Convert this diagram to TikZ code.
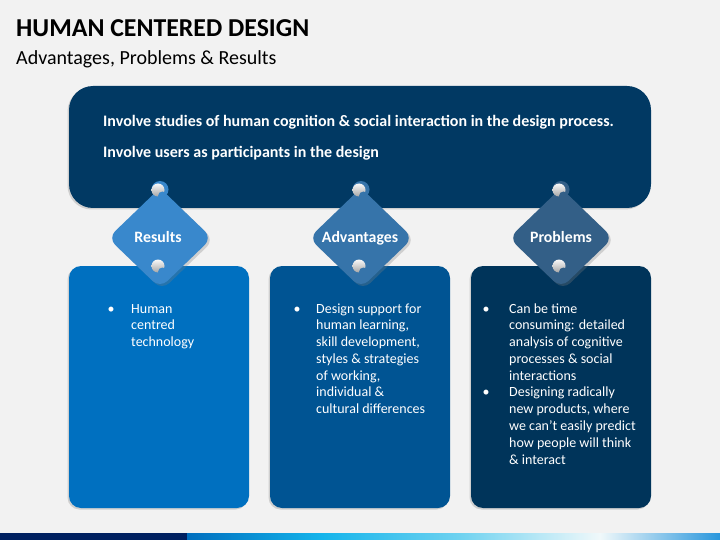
\documentclass[tikz,border=0pt]{standalone}
\usepackage{fontspec}
\setmainfont{Carlito}
\usetikzlibrary{shadows}
\definecolor{bg}{RGB}{242,242,242}
\definecolor{topbox}{RGB}{1,57,99}
\definecolor{boxA}{RGB}{0,112,192}
\definecolor{boxB}{RGB}{0,84,147}
\definecolor{boxC}{RGB}{0,52,90}
\definecolor{diaA}{RGB}{57,136,204}
\definecolor{diaB}{RGB}{54,116,170}
\definecolor{diaC}{RGB}{51,95,135}
\definecolor{barnavy}{RGB}{0,32,96}
\definecolor{barblue}{RGB}{0,110,190}
\definecolor{barcyan}{RGB}{20,180,235}
\definecolor{barlight}{RGB}{110,210,240}
\definecolor{barwhite}{RGB}{240,248,250}
\definecolor{barend}{RGB}{40,150,220}
\newcommand\knobdraw[3]{%
  \fill[#3] (#1+1,#2-1.5) circle (8.5);
  \shade[top color=white!95!gray, bottom color=gray!70] (#1-1,#2-1) circle (6.5);
  \fill[#3] (#1+3.5,#2+5) circle (4.5);
}
\newcommand\diamonddraw[3]{%
  \fill[#3, rounded corners=10pt, drop shadow={shadow xshift=2pt, shadow yshift=-2pt, opacity=.3}]
    (#1,#2-50) -- (#1+52,#2) -- (#1,#2+50) -- (#1-52,#2) -- cycle;
}
\begin{document}
\begin{tikzpicture}[x=1pt,y=-1pt,
  panel/.style={rounded corners=12pt, inner sep=0pt, draw=none,
    drop shadow={shadow xshift=-1.5pt, shadow yshift=-1.5pt, opacity=.3}},
  bodytxt/.style={anchor=base west, inner sep=0pt, text=white, font=\fontsize{14}{16.8}\selectfont},
  bullettxt/.style={anchor=base, inner sep=0pt, text=white, font=\fontsize{14}{16.8}\selectfont},
  headtxt/.style={anchor=base west, inner sep=0pt, text=white, font=\fontsize{16}{19}\selectfont\bfseries},
  labeltxt/.style={anchor=base, inner sep=0pt, text=white, font=\fontsize{15.8}{19}\selectfont\bfseries}]
\useasboundingbox (0,0) rectangle (720,540);
\fill[bg] (0,0) rectangle (720,540);

% title
\node[anchor=base west, inner sep=0pt, font=\fontsize{25.8}{30}\selectfont\bfseries] (title) at (16,37) {HUMAN CENTERED DESIGN};
\node[anchor=base west, inner sep=0pt, font=\fontsize{20}{24}\selectfont] (subtitle) at (16,65) {Advantages, Problems \& Results};

% top box
\node[panel, rounded corners=24pt, fill=topbox, minimum width=582pt, minimum height=122pt] (topbox) at (360,147) {};
\node[headtxt] (line1) at (103,127) {Involve studies of human cognition \& social interaction in the design process.};
\node[headtxt] (line2) at (103,158) {Involve users as participants in the design};

% bottom boxes
\node[panel, fill=boxA, minimum width=180pt, minimum height=242pt] (boxA) at (159,387) {};
\node[panel, fill=boxB, minimum width=180pt, minimum height=242pt] (boxB) at (360,387) {};
\node[panel, fill=boxC, minimum width=180pt, minimum height=242pt] (boxC) at (561,387) {};

% diamonds with knobs
\diamonddraw{160}{238}{diaA}
\knobdraw{159}{191}{diaA}
\knobdraw{159}{267}{diaA}
\diamonddraw{361}{238}{diaB}
\knobdraw{360}{191}{diaB}
\knobdraw{360}{267}{diaB}
\diamonddraw{561}{238}{diaC}
\knobdraw{560}{191}{diaC}
\knobdraw{560}{267}{diaC}

\node[labeltxt] (labA) at (158,243) {Results};
\node[labeltxt] (labB) at (360,243) {Advantages};
\node[labeltxt] (labC) at (561,243) {Problems};

% box texts
\node[bullettxt] (bA1) at (111,313) {•};
\foreach \t [count=\i from 0] in {{Human},{centred},{technology}}
  \node[bodytxt] (tA\i) at (131,313+16.78*\i) {\t};

\node[bullettxt] (bB1) at (297,313) {•};
\foreach \t [count=\i from 0] in {{Design support for},{human learning,},{skill development,},{styles \& strategies},{of working,},{individual \&},{cultural differences}}
  \node[bodytxt] (tB\i) at (316,313+16.78*\i) {\t};

\node[bullettxt] (bC1) at (486,313) {•};
\node[bullettxt] (bC2) at (486,313+16.78*5) {•};
\foreach \t [count=\i from 0] in {{Can be time},{consuming: detailed},{analysis of cognitive},{processes \& social},{interactions},{Designing radically},{new products, where},{we can’t easily predict},{how people will think},{\& interact}}
  \node[bodytxt] (tC\i) at (509,313+16.78*\i) {\t};

% bottom bar
\fill[barnavy] (0,533) rectangle (187,540);
\shade[left color=barblue, right color=barcyan] (187,533) rectangle (321,540);
\shade[left color=barcyan, right color=barlight] (321,533) rectangle (459,540);
\shade[left color=barlight, right color=barwhite] (459,533) rectangle (600,540);
\shade[left color=barwhite, right color=barend] (600,533) rectangle (720,540);
\end{tikzpicture}
\end{document}
